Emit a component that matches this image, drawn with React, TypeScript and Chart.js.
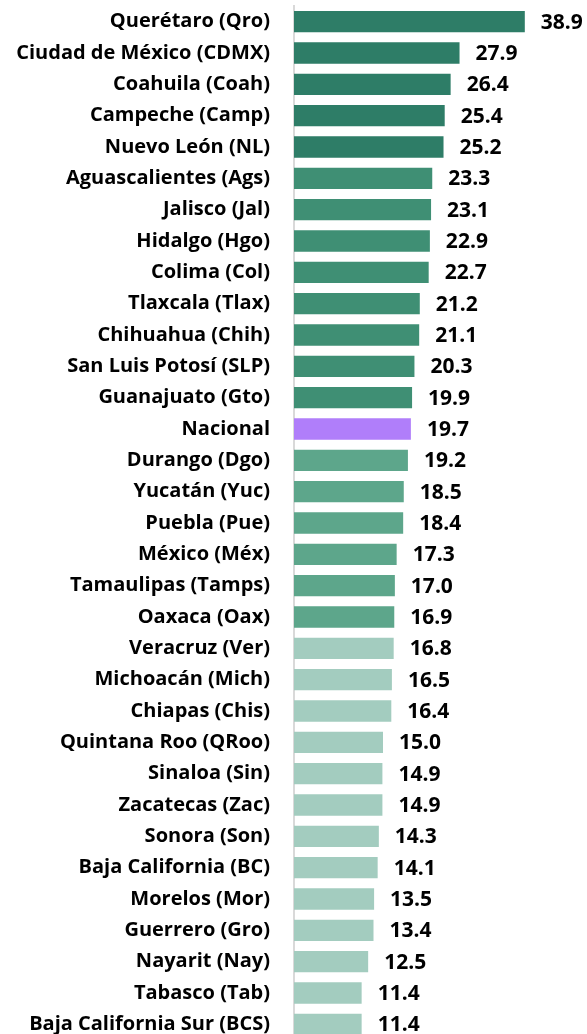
import React, { useEffect, useRef } from "react";
import { Chart, registerables } from "chart.js";

Chart.register(...registerables);

const categories: string[] = [
  "Querétaro (Qro)",
  "Ciudad de México (CDMX)",
  "Coahuila (Coah)",
  "Campeche (Camp)",
  "Nuevo León (NL)",
  "Aguascalientes (Ags)",
  "Jalisco (Jal)",
  "Hidalgo (Hgo)",
  "Colima (Col)",
  "Tlaxcala (Tlax)",
  "Chihuahua (Chih)",
  "San Luis Potosí (SLP)",
  "Guanajuato (Gto)",
  "Nacional",
  "Durango (Dgo)",
  "Yucatán (Yuc)",
  "Puebla (Pue)",
  "México (Méx)",
  "Tamaulipas (Tamps)",
  "Oaxaca (Oax)",
  "Veracruz (Ver)",
  "Michoacán (Mich)",
  "Chiapas (Chis)",
  "Quintana Roo (QRoo)",
  "Sinaloa (Sin)",
  "Zacatecas (Zac)",
  "Sonora (Son)",
  "Baja California (BC)",
  "Morelos (Mor)",
  "Guerrero (Gro)",
  "Nayarit (Nay)",
  "Tabasco (Tab)",
  "Baja California Sur (BCS)",
];

const values: number[] = [
  38.9, 27.9, 26.4, 25.4, 25.2, 23.3, 23.1, 22.9, 22.7, 21.2, 21.1, 20.3, 19.9,
  19.7, 19.2, 18.5, 18.4, 17.3, 17.0, 16.9, 16.8, 16.5, 16.4, 15.0, 14.9, 14.9,
  14.3, 14.1, 13.5, 13.4, 12.5, 11.4, 11.4,
];

// group index per category: 0 dark, 1 medium, 2 national, 3 light, 4 pale
const groups: number[] = [
  0, 0, 0, 0, 0, 1, 1, 1, 1, 1, 1, 1, 1, 2, 3, 3, 3, 3, 3, 3, 4, 4, 4, 4, 4, 4,
  4, 4, 4, 4, 4, 4, 4,
];

const groupColors: string[] = ["#2E7D67", "#3F8F74", "#B07EFA", "#5DA68B", "#A3CCBF"];

const FONT = "'Open Sans', Lato, sans-serif";

const valueLabelPlugin = {
  id: "valueLabels",
  afterDatasetsDraw(chart: any) {
    const ctx = chart.ctx;
    const meta = chart.getDatasetMeta(0);
    ctx.save();
    ctx.font = `bold 21px ${FONT}`;
    ctx.fillStyle = "#000000";
    ctx.textAlign = "left";
    ctx.textBaseline = "middle";
    meta.data.forEach((bar: any, i: number) => {
      ctx.fillText(values[i].toFixed(1), bar.x + 16, bar.y + 1);
    });
    ctx.restore();
  },
};

export default function App() {
  const canvasRef = useRef<HTMLCanvasElement | null>(null);

  useEffect(() => {
    document.body.style.margin = "0";
    const canvas = canvasRef.current;
    if (!canvas) return;
    const chart = new Chart(canvas, {
      type: "bar",
      data: {
        labels: categories,
        datasets: [
          {
            data: values,
            backgroundColor: groups.map((g) => groupColors[g]),
            borderWidth: 0,
            categoryPercentage: 1,
            barPercentage: 0.68,
          },
        ],
      },
      options: {
        indexAxis: "y",
        animation: false,
        responsive: false,
        maintainAspectRatio: false,
        layout: { padding: { top: 6, right: 26, bottom: 0, left: 0 } },
        plugins: {
          legend: { display: false },
          tooltip: { enabled: false },
        },
        scales: {
          x: {
            display: false,
            min: 0,
            max: 45,
          },
          y: {
            afterFit: (scale: any) => {
              scale.width = 294;
              scale.paddingTop = 0;
              scale.paddingBottom = 0;
            },
            grid: { display: false, drawTicks: false },
            border: { display: true, color: "#D9D9D9", width: 2 },
            ticks: {
              color: "#000000",
              padding: 24,
              autoSkip: false,
              font: { family: FONT, size: 20, weight: "bold" },
            },
          },
        },
      },
      plugins: [valueLabelPlugin],
    });
    return () => chart.destroy();
  }, []);

  return (
    <div style={{ width: 587, height: 1040, position: "relative" }}>
      <canvas ref={canvasRef} width={587} height={1040} style={{ display: "block" }} />
    </div>
  );
}
